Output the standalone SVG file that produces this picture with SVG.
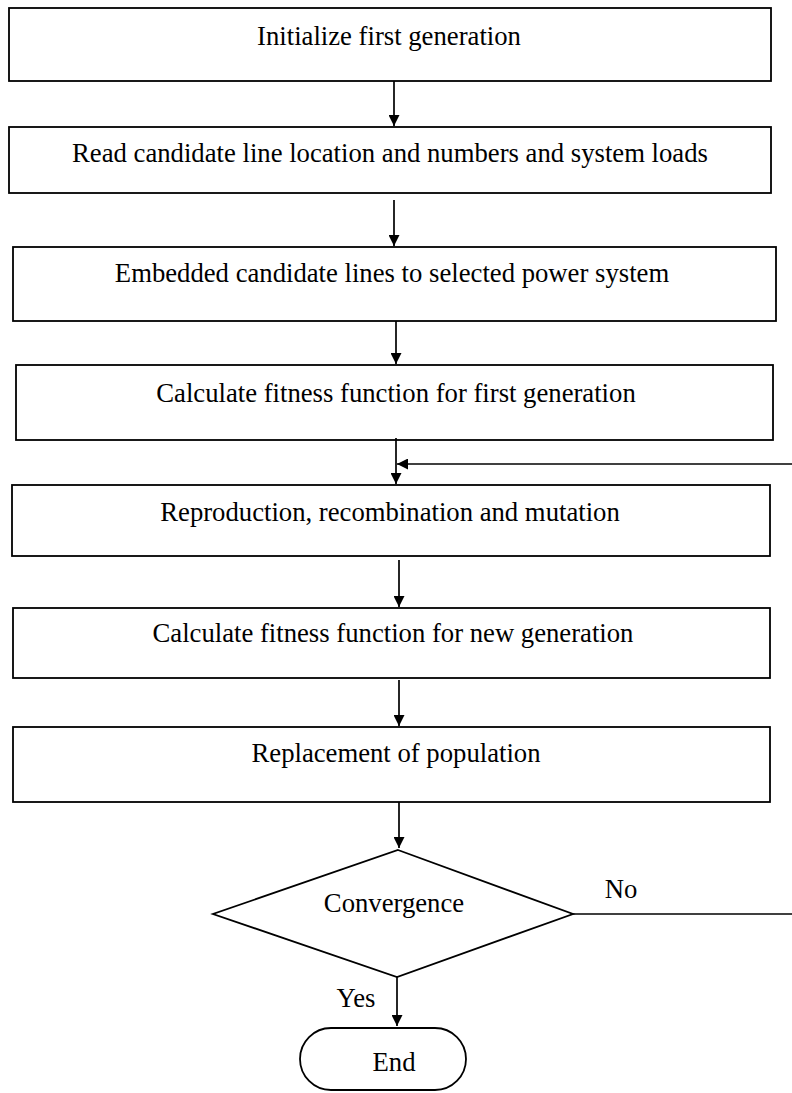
<svg xmlns="http://www.w3.org/2000/svg" width="792" height="1093" viewBox="0 0 792 1093">
<defs>
<marker id="ah" viewBox="0 0 10 10" refX="10" refY="5" markerWidth="12" markerHeight="11" markerUnits="userSpaceOnUse" orient="auto">
<path d="M0,0 L10,5 L0,10 z" fill="#000"/>
</marker>
<style>
.box{fill:#fff;stroke:#000;stroke-width:1.8}
.t{font-family:"Liberation Serif","Times New Roman",serif;font-size:26.7px;fill:#000;text-anchor:middle}
.c{stroke:#000;stroke-width:1.7;fill:none}
</style>
</defs>
<rect width="792" height="1093" fill="#fff"/>
<g id="n1"><rect class="box" x="9" y="8" width="762" height="73"/><text class="t" x="389" y="45">Initialize first generation</text></g>
<g id="n2"><rect class="box" x="9" y="127" width="762" height="66"/><text class="t" x="390" y="162">Read candidate line location and numbers and system loads</text></g>
<g id="n3"><rect class="box" x="13" y="247" width="763" height="74"/><text class="t" x="392" y="282">Embedded candidate lines to selected power system</text></g>
<g id="n4"><rect class="box" x="16" y="365" width="757" height="75"/><text class="t" x="396" y="402">Calculate fitness function for first generation</text></g>
<g id="n5"><rect class="box" x="12" y="485" width="758" height="71"/><text class="t" x="390" y="521">Reproduction, recombination and mutation</text></g>
<g id="n6"><rect class="box" x="13" y="608" width="757" height="70"/><text class="t" x="393" y="642">Calculate fitness function for new generation</text></g>
<g id="n7"><rect class="box" x="13" y="727" width="757" height="75"/><text class="t" x="396" y="762">Replacement of population</text></g>
<g id="n8"><polygon class="box" points="398,850 573,914 397,977 213,914"/><text class="t" x="394" y="912">Convergence</text></g>
<g id="n9"><rect class="box" x="300" y="1028" width="166" height="62" rx="31" ry="31"/><text class="t" x="394" y="1071">End</text></g>
<g id="connectors">
<line class="c" x1="394" y1="81" x2="394" y2="126" marker-end="url(#ah)"/>
<line class="c" x1="394" y1="200" x2="394" y2="246" marker-end="url(#ah)"/>
<line class="c" x1="396" y1="321" x2="396" y2="364" marker-end="url(#ah)"/>
<line class="c" x1="396" y1="438" x2="396" y2="484" marker-end="url(#ah)"/>
<line class="c" x1="792" y1="464" x2="397" y2="464" marker-end="url(#ah)"/>
<line class="c" x1="399" y1="560" x2="399" y2="607" marker-end="url(#ah)"/>
<line class="c" x1="399" y1="680" x2="399" y2="726" marker-end="url(#ah)"/>
<line class="c" x1="399" y1="802" x2="399" y2="848" marker-end="url(#ah)"/>
<line class="c" x1="573" y1="914" x2="792" y2="914"/>
<line class="c" x1="397" y1="977" x2="397" y2="1026" marker-end="url(#ah)"/>
<text class="t" x="621" y="898">No</text>
<text class="t" x="356" y="1007">Yes</text>
</g>
</svg>
